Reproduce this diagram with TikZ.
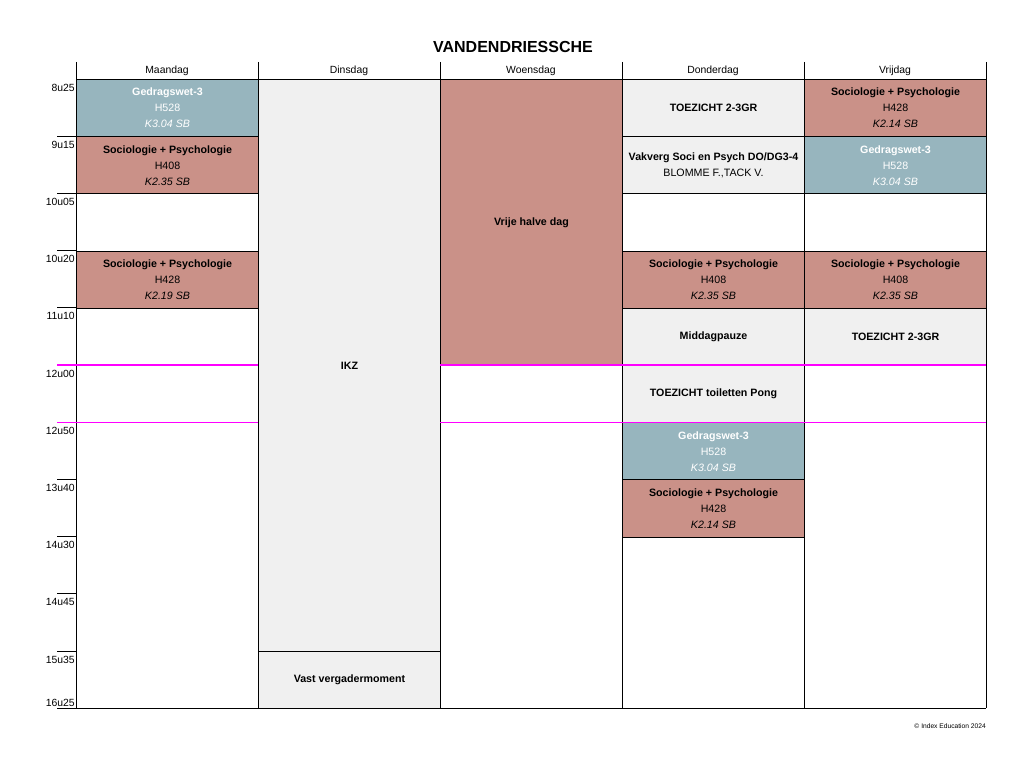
\documentclass[tikz,border=0pt]{standalone}
\usepackage{fontspec}
\setmainfont{Liberation Sans}
\usetikzlibrary{positioning}

\definecolor{lesrood}{HTML}{CA9188}
\definecolor{lesblauw}{HTML}{97B5BE}
\definecolor{taakgrijs}{HTML}{F0F0F0}
\definecolor{middag}{HTML}{FF00FF}

\tikzset{
    blok/.style={draw=black, line width=0.75pt, minimum width=136.5pt, anchor=north west,
        inner sep=0pt, align=center, font=\fontsize{8}{12}\selectfont},
    les/.style={blok, fill=lesrood, text=black},
    gedrag/.style={blok, fill=lesblauw, text=white},
    taak/.style={blok, fill=taakgrijs, text=black},
    dag/.style={font=\fontsize{7.8}{9}\selectfont},
    tijd/.style={font=\fontsize{7.8}{9}\selectfont, inner sep=0pt},
}

\begin{document}
\begin{tikzpicture}[x=0.75pt, y=-0.75pt]
        \useasboundingbox (0,0) rectangle (1023,767);

        % Title and days
        \node[font=\bfseries\fontsize{12}{14}\selectfont] (titel) at (513, 47) {VANDENDRIESSCHE};
        \foreach \d [count=\k from 0] in {Maandag, Dinsdag, Woensdag, Donderdag, Vrijdag}
            \node[dag] (dag\k) at ({167+182*\k}, 70.5) {\d};

        % Maandag
        \node[gedrag, minimum height=42.9pt] (ma1) at (76, 79) {{\bfseries Gedragswet-3}\\H528\\{\itshape K3.04 SB}};
        \node[les, minimum height=42.9pt] (ma2) at (76, 136.2) {{\bfseries Sociologie + Psychologie}\\H408\\{\itshape K2.35 SB}};
        \node[les, minimum height=42.9pt] (ma3) at (76, 250.6) {{\bfseries Sociologie + Psychologie}\\H428\\{\itshape K2.19 SB}};

        % Dinsdag
        \node[taak, minimum height=429pt] (di1) at (258, 79) {\bfseries IKZ};
        \node[taak, minimum height=42.9pt] (di2) at (258, 651) {\bfseries Vast vergadermoment};

        % Woensdag
        \node[les, minimum height=214.5pt] (wo1) at (440, 79) {\bfseries Vrije halve dag};

        % Donderdag
        \node[taak, minimum height=42.9pt] (do1) at (622, 79) {\bfseries TOEZICHT 2-3GR};
        \node[taak, minimum height=42.9pt] (do2) at (622, 136.2) {{\bfseries Vakverg Soci en Psych DO/DG3-4}\\BLOMME F.,TACK V.};
        \node[les, minimum height=42.9pt] (do3) at (622, 250.6) {{\bfseries Sociologie + Psychologie}\\H408\\{\itshape K2.35 SB}};
        \node[taak, minimum height=42.9pt] (do4) at (622, 307.8) {\bfseries Middagpauze};
        \node[taak, minimum height=42.9pt] (do5) at (622, 365) {\bfseries TOEZICHT toiletten Pong};
        \node[gedrag, minimum height=42.9pt] (do6) at (622, 422.2) {{\bfseries Gedragswet-3}\\H528\\{\itshape K3.04 SB}};
        \node[les, minimum height=42.9pt] (do7) at (622, 479.4) {{\bfseries Sociologie + Psychologie}\\H428\\{\itshape K2.14 SB}};

        % Vrijdag
        \node[les, minimum height=42.9pt] (vr1) at (804, 79) {{\bfseries Sociologie + Psychologie}\\H428\\{\itshape K2.14 SB}};
        \node[gedrag, minimum height=42.9pt] (vr2) at (804, 136.2) {{\bfseries Gedragswet-3}\\H528\\{\itshape K3.04 SB}};
        \node[les, minimum height=42.9pt] (vr3) at (804, 250.6) {{\bfseries Sociologie + Psychologie}\\H408\\{\itshape K2.35 SB}};
        \node[taak, minimum height=42.9pt] (vr4) at (804, 307.8) {\bfseries TOEZICHT 2-3GR};

        % Grid
        \foreach \x in {76, 258, 440, 622, 804, 986}
            \draw[line width=0.75pt] (\x, 62) -- (\x, 708);
        \draw[line width=0.75pt] (76, 79) -- (986, 79);
        \draw[line width=0.75pt] (57, 708) -- (986, 708);
        \foreach \i in {1,2,3,4,7,8,9,10}
            \draw[line width=0.75pt] (57, {79+57.2*\i}) -- (76, {79+57.2*\i});

        % Lunch lines
        \foreach \y in {365, 422.2} {
            \draw[middag, line width=0.8pt] (57, \y) -- (258, \y);
            \draw[middag, line width=0.8pt] (440, \y) -- (986, \y);
        }

        % Times
        \foreach \t [count=\i from 0] in {8u25, 9u15, 10u05, 10u20, 11u10, 12u00, 12u50, 13u40, 14u30, 14u45, 15u35}
            \node[tijd, anchor=base east] (tijd\i) at (75, {91+57.2*\i}) {\t};
        \node[tijd, anchor=base east] (tijd11) at (75, 706) {16u25};

        \node[anchor=east, inner sep=0pt, font=\fontsize{5}{6}\selectfont] (bron) at (986, 726) {© Index Education 2024};
    \end{tikzpicture}
\end{document}
